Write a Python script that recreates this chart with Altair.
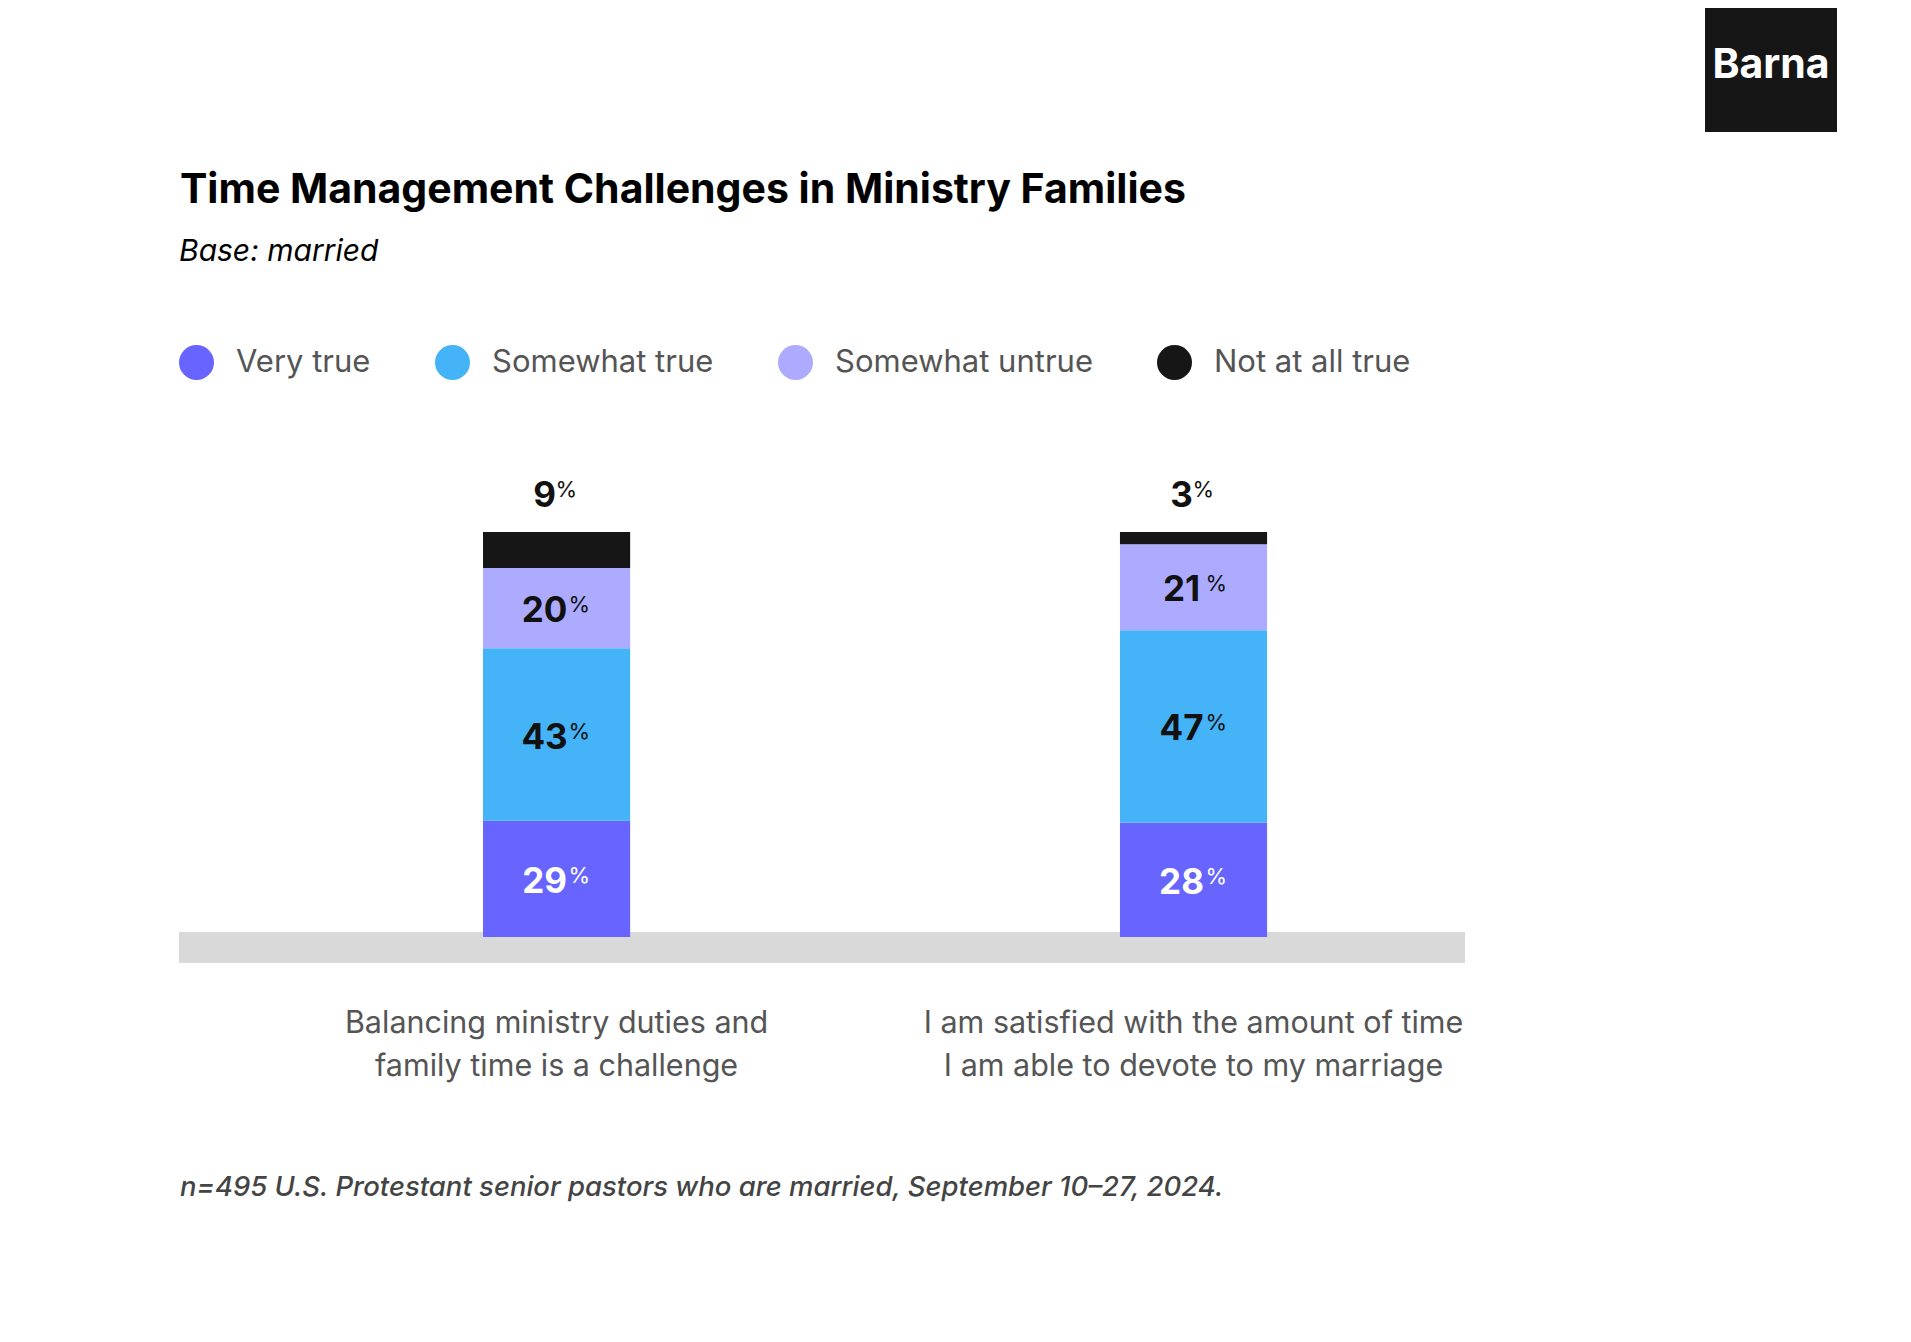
import altair as alt
import pandas as pd

TITLE = "Time Management Challenges in Ministry Families"
SUBTITLE = "Base: married"
NOTE = "n=495 U.S. Protestant senior pastors who are married, September 10–27, 2024."
LOGO = "Barna"

questions = [
    "Balancing ministry duties and\nfamily time is a challenge",
    "I am satisfied with the amount of time\nI am able to devote to my marriage",
]
categories = ["Very true", "Somewhat true", "Somewhat untrue", "Not at all true"]
colors = ["#6764FF", "#45B3F7", "#ADABFF", "#161616"]
balancing = [29, 43, 20, 9]
satisfied = [28, 47, 21, 3]

rows = []
for q, vals in zip(questions, [balancing, satisfied]):
    for i, (c, v) in enumerate(zip(categories, vals)):
        rows.append({"question": q, "category": c, "value": v, "order": i})
df = pd.DataFrame(rows)

W, H = 1286, 405
FONT = "Inter"

x_enc = alt.X(
    "question:N",
    sort=questions,
    scale=alt.Scale(domain=questions, paddingInner=0.769, paddingOuter=0.394, align=0.6057),
    axis=alt.Axis(
        title=None, domain=False, ticks=False, tickSize=0, labelPadding=95,
        labelBaseline="alphabetic", labelFontSize=30.5, labelColor="#555555",
        labelFont=FONT, labelLineHeight=43, labelExpr="split(datum.label, '\\n')",
        labelLimit=0, labelAngle=0, grid=False,
    ),
)
y_scale = alt.Scale(domain=[0, 1], nice=False, zero=True)

band = alt.Chart(pd.DataFrame({"k": [0]})).mark_rect(color="#D9D9D9").encode(
    x=alt.value(0), x2=alt.value(W), y=alt.value(400), y2=alt.value(431)
)

bars = alt.Chart(df).mark_bar().encode(
    x=x_enc,
    y=alt.Y("value:Q", stack="normalize", scale=y_scale, axis=None),
    color=alt.Color(
        "category:N",
        scale=alt.Scale(domain=categories, range=colors),
        legend=alt.Legend(
            orient="none", legendX=0, legendY=-187, direction="horizontal", title=None,
            symbolType="circle", symbolSize=1225, symbolStrokeWidth=0, symbolOpacity=1,
            labelFontSize=31, labelFont=FONT, labelColor="#555555", labelOffset=22,
            columnPadding=64, padding=0, labelLimit=0, rowPadding=0,
        ),
    ),
    order=alt.Order("order:Q", sort="ascending"),
)

stacked = alt.Chart(df).transform_stack(
    stack="value", as_=["v0", "v1"], groupby=["question"],
    sort=[alt.SortField("order", order="ascending")], offset="normalize",
).transform_calculate(mid="(datum.v0 + datum.v1) / 2")

text_color = alt.condition(alt.datum.category == "Very true", alt.value("#FFFFFF"), alt.value("#111111"))


def label_layers(src, yfield, dy_num, dy_pct):
    y = alt.Y(yfield, scale=y_scale, axis=None)
    num = src.mark_text(
        font=FONT, fontWeight="bold", fontSize=35, align="center", baseline="alphabetic",
        dx=-12, dy=dy_num,
    ).encode(x=x_enc, y=y, text=alt.Text("value:Q", format="d"), color=text_color)
    p2 = src.transform_filter("datum.value >= 10").mark_text(
        text="%", font=FONT, fontSize=22, align="left", baseline="alphabetic", dx=12, dy=dy_pct,
    ).encode(x=x_enc, y=y, color=text_color)
    p1 = src.transform_filter("datum.value < 10").mark_text(
        text="%", font=FONT, fontSize=22, align="left", baseline="alphabetic", dx=-1, dy=dy_pct,
    ).encode(x=x_enc, y=y, color=text_color)
    return [num, p2, p1]


inner = stacked.transform_filter("datum.category !== 'Not at all true'")
top = stacked.transform_filter("datum.category === 'Not at all true'")
labels = label_layers(inner, "mid:Q", 14, 4) + label_layers(top, "v1:Q", -25, -35)


def text_layer(txt, x, y, **kw):
    return alt.Chart(pd.DataFrame({"t": [txt]})).mark_text(font=FONT, baseline="alphabetic", **kw).encode(
        x=alt.value(x), y=alt.value(y), text="t:N"
    )


title = text_layer(TITLE, 1, -329, align="left", fontSize=41, fontWeight="bold", color="#000000")
subtitle = text_layer(SUBTITLE, 0, -271, align="left", fontSize=30, fontStyle="italic", color="#000000")
note = text_layer(NOTE, 1, 664, align="left", fontSize=27.5, fontStyle="italic", fontWeight=500, color="#444444")
logo_box = alt.Chart(pd.DataFrame({"k": [0]})).mark_rect(color="#161616").encode(
    x=alt.value(1526), x2=alt.value(1658), y=alt.value(-540), y2=alt.value(-400)
)
logo_text = text_layer(LOGO, 1592, -454, align="center", fontSize=41, fontWeight="bold", color="#FFFFFF")

chart = alt.layer(
    band, bars, *labels, title, subtitle, note, logo_box, logo_text
).properties(
    width=W, height=H,
    padding={"left": 171, "top": 524, "right": 400, "bottom": 300},
    autosize=alt.AutoSizeParams(type="none"),
).configure(font=FONT).configure_view(strokeWidth=0, stroke="transparent")

chart.save("out.html", embed_options={"renderer": "svg", "actions": False})
